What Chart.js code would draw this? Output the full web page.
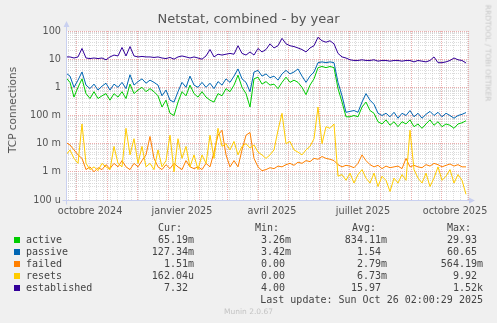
<!DOCTYPE html>
<html>
<head>
<meta charset="utf-8">
<script src="https://cdn.jsdelivr.net/npm/chart.js@4/dist/chart.umd.min.js"></script>
<style>
  body { margin: 0; background: #f0f0f0; }
  #wrap { position: relative; width: 497px; height: 323px; overflow: hidden; font-family: 'DejaVu Sans', sans-serif; }
  canvas { position: absolute; left: 0; top: 0; }
  .t { position: absolute; white-space: pre; }
  .mono { font-family: 'DejaVu Sans Mono', monospace; font-size: 10px; line-height: 12px; color: #444; }
</style>
</head>
<body>
<div id="wrap">
  <canvas id="c" width="497" height="323"></canvas>
  <div class="t" id="title" style="left:0;width:497px;text-align:center;top:11px;font-size:13px;color:#555;">Netstat, combined - by year</div>
  <div class="t" style="left:11.5px;top:110px;transform:translate(-50%,-50%) rotate(-90deg);font-size:10.5px;color:#555;">TCP connections</div>
  <div class="t" style="left:488px;top:53px;transform:translate(-50%,-50%) rotate(90deg);font-size:7.5px;color:#c8c8c8;">RRDTOOL / TOBI OETIKER</div>
  <div class="t" style="left:0;width:497px;text-align:center;top:307px;font-size:7.5px;color:#c4c4c4;">Munin 2.0.67</div>
</div>
<script>
//======== DATA: one value every 4 days, 21 Sep 2024 -> 26 Oct 2025 ===========//

const stepDays = 4;

const active = [
    2.2, 1.5, 0.45, 1.0, 2.0, 0.6, 0.4, 0.7, 0.4, 0.5,
    0.6, 0.35, 0.6, 0.45, 0.7, 0.4, 1.3, 0.6, 0.8, 1.0,
    0.7, 0.9, 0.7, 0.5, 0.2, 0.35, 0.12, 0.1, 0.3, 0.7,
    0.5, 1.2, 0.6, 0.45, 0.7, 0.45, 0.35, 0.3, 0.6, 0.5,
    0.9, 0.7, 1.2, 2.7, 1.0, 0.6, 0.2, 2.0, 2.3, 1.3,
    1.6, 1.2, 1.3, 0.9, 1.5, 2.3, 1.5, 1.8, 1.5, 1.0,
    0.55, 1.2, 2.0, 5.0, 5.5, 5.0, 5.5, 5.0, 0.9, 0.3,
    0.09, 0.09, 0.1, 0.09, 0.2, 0.3, 0.15, 0.12, 0.06, 0.05,
    0.07, 0.045, 0.06, 0.04, 0.06, 0.05, 0.07, 0.04, 0.05, 0.035,
    0.05, 0.07, 0.045, 0.06, 0.04, 0.05, 0.045, 0.035, 0.05, 0.055,
    0.065
];

const passive = [
    3.2, 2.5, 1.0, 1.8, 3.5, 1.2, 0.9, 1.3, 0.8, 1.1,
    1.4, 0.8, 1.3, 1.0, 1.5, 0.9, 2.8, 1.2, 1.6, 2.0,
    1.4, 1.8, 1.5, 1.2, 0.5, 0.8, 0.35, 0.3, 0.7, 1.5,
    1.0, 2.5, 1.2, 1.0, 1.5, 1.0, 1.4, 0.9, 1.6, 1.2,
    2.0, 1.5, 2.5, 4.5, 2.0, 1.5, 0.7, 3.5, 4.0, 2.5,
    3.0, 2.2, 2.5, 1.8, 3.0, 4.0, 3.0, 3.5, 4.5, 2.5,
    1.5, 2.5, 3.5, 7.5, 8.0, 7.5, 8.0, 7.5, 1.5, 0.5,
    0.13, 0.14, 0.15, 0.13, 0.3, 0.6, 0.35, 0.25, 0.12, 0.1,
    0.12, 0.09, 0.13, 0.08, 0.12, 0.1, 0.15, 0.09, 0.12, 0.08,
    0.11, 0.14, 0.1, 0.13, 0.09, 0.12, 0.1, 0.08, 0.1, 0.11,
    0.127
];

const failed = [
    0.011, 0.009, 0.006, 0.004, 0.003, 0.0012, 0.0015, 0.001, 0.0014, 0.0012,
    0.0018, 0.0013, 0.002, 0.0015, 0.0025, 0.0015, 0.0012, 0.002, 0.0015, 0.0025,
    0.004, 0.018, 0.003, 0.0015, 0.0012, 0.0018, 0.0013, 0.002, 0.0015, 0.0012,
    0.0025, 0.0015, 0.0013, 0.0015, 0.0012, 0.002, 0.0015, 0.005, 0.02, 0.03,
    0.004, 0.0015, 0.0025, 0.0015, 0.006, 0.02, 0.025, 0.003, 0.0015, 0.0011,
    0.0012, 0.0014, 0.0013, 0.0016, 0.0015, 0.0018, 0.002, 0.0017, 0.0022, 0.002,
    0.0025, 0.0023, 0.003, 0.0028, 0.0035, 0.003, 0.0028, 0.0025, 0.0018, 0.0015,
    0.0017, 0.0016, 0.0014, 0.002, 0.004, 0.0025, 0.0018, 0.0015, 0.0017, 0.0013,
    0.0016, 0.0014, 0.0015, 0.0016, 0.0013, 0.003, 0.0015, 0.0017, 0.0015, 0.0014,
    0.0018, 0.0016, 0.002, 0.0018, 0.0015, 0.0017, 0.0019, 0.0016, 0.0018, 0.0015,
    0.0015
];

const resets = [
    0.004, 0.006, 0.003, 0.002, 0.05, 0.002, 0.0012, 0.0015, 0.0011, 0.002,
    0.0015, 0.0012, 0.008, 0.002, 0.0015, 0.035, 0.004, 0.015, 0.002, 0.008,
    0.0015, 0.002, 0.0012, 0.006, 0.0015, 0.0025, 0.02, 0.001, 0.015, 0.003,
    0.008, 0.0015, 0.004, 0.0012, 0.004, 0.002, 0.02, 0.003, 0.035, 0.008,
    0.01, 0.006, 0.012, 0.004, 0.008, 0.01, 0.007, 0.009, 0.005, 0.004,
    0.003, 0.004, 0.006, 0.03, 0.12, 0.01, 0.012, 0.006, 0.005, 0.004,
    0.006, 0.008, 0.015, 0.2, 0.01, 0.04, 0.035, 0.05, 0.0007, 0.0008,
    0.0005, 0.0009, 0.0004, 0.0008, 0.0012, 0.0006, 0.0004, 0.0009, 0.0003, 0.0007,
    0.0005, 0.0002, 0.0006, 0.0004, 0.0008, 0.0005, 0.03, 0.0012, 0.0006, 0.0004,
    0.0009, 0.0003, 0.0006, 0.0015, 0.0005, 0.0007, 0.0012, 0.0004, 0.0008, 0.0005,
    0.00016
];

const established = [
    12, 12, 11, 12, 24, 11, 10.5, 11, 10.5, 11,
    9.5, 12, 14, 13, 26, 13, 28, 13, 12, 12.5,
    12, 12, 11.5, 12, 11, 10.5, 11.5, 10, 12, 13,
    12, 11, 12, 11, 10, 13, 22, 12, 15, 14,
    15, 16, 15, 30, 16, 14, 18, 14, 24, 18,
    22, 35, 25, 30, 55, 35, 30, 28, 25, 22,
    18, 25, 30, 60, 45, 40, 45, 35, 16, 12,
    11, 9.5, 9, 9, 9.5, 9, 9, 9.5, 8.5, 9,
    9, 8.5, 9, 9, 8.5, 9, 9, 8, 9, 8.5,
    8, 9, 12, 7.5, 7.5, 8, 9, 11, 9.5, 9,
    7.3
];

const seriesNames  = ['active', 'passive', 'failed', 'resets', 'established'];
const seriesColors = ['#00CC00', '#0066B3', '#FF8000', '#FFCC00', '#330099'];
const curVals = ['65.19m', '127.34m', '1.51m', '162.04u', '7.32 '];
const minVals = ['3.26m', '3.42m', '0.00 ', '0.00 ', '4.00 '];
const avgVals = ['834.11m', '1.54 ', '2.79m', '6.73m', '15.97 '];
const maxVals = ['29.93 ', '60.65 ', '564.19m', '9.92 ', '1.52k'];
const lastUpdate = 'Last update: Sun Oct 26 02:00:29 2025';

// x axis: days since 21 Sep 2024
const monthStarts = [10, 41, 71, 102, 133, 161, 192, 222, 253, 283, 314, 345, 375];
const monthLabelDays = [24, 116, 206, 297, 389];
const monthLabels = ['octobre 2024', 'janvier 2025', 'avril 2025', 'juillet 2025', 'octobre 2025'];
const yLabels = { '2': '100', '1': '10', '0': '1', '-1': '100 m', '-2': '10 m', '-3': '1 m', '-4': '100 u' };

//======== CHART ===========//

const allSeries = [active, passive, failed, resets, established];

let xType = new Map();
for (let d = 2; d <= 402; d += 7) xType.set(d, 'week');
monthStarts.forEach(d => xType.set(d, 'month'));
xType.set(402, 'month');
monthLabelDays.forEach(d => { if (!xType.has(d)) xType.set(d, 'label'); });
let xTickVals = Array.from(xType.keys()).sort((a, b) => a - b);

const RED = 'rgba(230,140,140,0.7)';
const GREY = 'rgba(190,190,190,0.55)';

const frame = {
    id: 'frame',
    beforeDraw(chart) {
        let ctx = chart.ctx, a = chart.chartArea;
        ctx.save();
        ctx.fillStyle = '#ffffff';
        ctx.fillRect(a.left, a.top, a.right - a.left, a.bottom - a.top);
        ctx.restore();
    },
    afterDraw(chart) {
        let ctx = chart.ctx, a = chart.chartArea;
        let x0 = Math.round(a.left) + 0.5, y0 = Math.round(a.bottom) + 0.5;
        ctx.save();
        ctx.strokeStyle = '#c9d0f0';
        ctx.fillStyle = '#c9d0f0';
        ctx.lineWidth = 1;
        ctx.beginPath();
        ctx.moveTo(x0, a.top - 4); ctx.lineTo(x0, y0 + 4);
        ctx.moveTo(x0 - 4, y0); ctx.lineTo(a.right + 2, y0);
        ctx.stroke();
        ctx.beginPath();
        ctx.moveTo(x0 - 3, a.top - 4); ctx.lineTo(x0 + 3, a.top - 4); ctx.lineTo(x0, a.top - 10); ctx.closePath();
        ctx.moveTo(a.right + 1, y0 - 3); ctx.lineTo(a.right + 1, y0 + 3); ctx.lineTo(a.right + 7, y0); ctx.closePath();
        ctx.fill();
        ctx.restore();
    }
};

let datasets = allSeries.map((s, k) => ({
    label: seriesNames[k],
    data: s.map((v, i) => ({ x: i * stepDays, y: v })),
    borderColor: seriesColors[k],
    borderWidth: 1,
    pointRadius: 0,
    tension: 0,
    fill: false,
    order: 5 - k
}));

new Chart(document.getElementById('c'), {
    type: 'line',
    data: { datasets: datasets },
    plugins: [frame],
    options: {
        responsive: false,
        animation: false,
        layout: { padding: { top: 31, right: 29, left: 0, bottom: 0 } },
        plugins: { legend: { display: false }, tooltip: { enabled: false }, title: { display: false } },
        scales: {
            x: {
                type: 'linear',
                min: 0,
                max: 402,
                afterBuildTicks: s => { s.ticks = xTickVals.map(v => ({ value: v })); },
                afterFit: s => { s.height = 123; },
                grid: {
                    drawTicks: false,
                    lineWidth: 1,
                    color: c => {
                        let t = c.tick ? xType.get(c.tick.value) : null;
                        if (t === 'month') return RED;
                        if (t === 'week') return GREY;
                        return 'rgba(0,0,0,0)';
                    }
                },
                border: { display: false, dash: [1, 1] },
                ticks: {
                    autoSkip: false,
                    maxRotation: 0,
                    padding: 6,
                    color: '#555',
                    font: { family: 'DejaVu Sans', size: 9.7 },
                    callback: v => {
                        let i = monthLabelDays.indexOf(v);
                        return i >= 0 ? monthLabels[i] : '';
                    }
                }
            },
            y: {
                type: 'logarithmic',
                min: 0.0001,
                max: 100,
                afterBuildTicks: s => {
                    let t = [];
                    for (let e = -4; e <= 2; e++) {
                        for (let m = 1; m <= 9; m++) {
                            let v = +(m * Math.pow(10, e)).toPrecision(3);
                            if (v <= 100) t.push({ value: v });
                        }
                    }
                    s.ticks = t;
                },
                afterFit: s => { s.width = 66; },
                grid: {
                    drawTicks: false,
                    lineWidth: 1,
                    color: c => {
                        if (!c.tick) return GREY;
                        let l = Math.log10(c.tick.value);
                        return Math.abs(l - Math.round(l)) < 1e-6 ? RED : GREY;
                    }
                },
                border: { display: false, dash: [1, 1] },
                ticks: {
                    autoSkip: false,
                    padding: 5,
                    color: '#555',
                    font: { family: 'DejaVu Sans', size: 9.7 },
                    callback: v => {
                        let l = Math.log10(v);
                        return Math.abs(l - Math.round(l)) < 1e-6 ? yLabels[String(Math.round(l))] : '';
                    }
                }
            }
        }
    }
});

//======== LEGEND / STATS ===========//

let wrap = document.getElementById('wrap');

function addText(txt, css) {
    let d = document.createElement('div');
    d.className = 't mono';
    d.textContent = txt;
    d.style.cssText += css;
    wrap.appendChild(d);
}

addText('Cur:', 'left:158px;top:222px;');
addText('Min:', 'left:255px;top:222px;');
addText('Avg:', 'left:352px;top:222px;');
addText('Max:', 'left:447px;top:222px;');

seriesNames.forEach((n, k) => {
    let top = 234 + k * 12;
    let sq = document.createElement('div');
    sq.style.cssText = 'position:absolute;left:14px;width:6px;height:6px;top:' + (top + 3) + 'px;background:' + seriesColors[k] + ';';
    wrap.appendChild(sq);
    addText(n, 'left:26px;top:' + top + 'px;');
    addText(curVals[k], 'right:' + (497 - 194) + 'px;top:' + top + 'px;text-align:right;');
    addText(minVals[k], 'right:' + (497 - 291) + 'px;top:' + top + 'px;text-align:right;');
    addText(avgVals[k], 'right:' + (497 - 387) + 'px;top:' + top + 'px;text-align:right;');
    addText(maxVals[k], 'right:' + (497 - 483) + 'px;top:' + top + 'px;text-align:right;');
});
addText(lastUpdate, 'right:' + (497 - 483) + 'px;top:294px;text-align:right;');
</script>
</body>
</html>
